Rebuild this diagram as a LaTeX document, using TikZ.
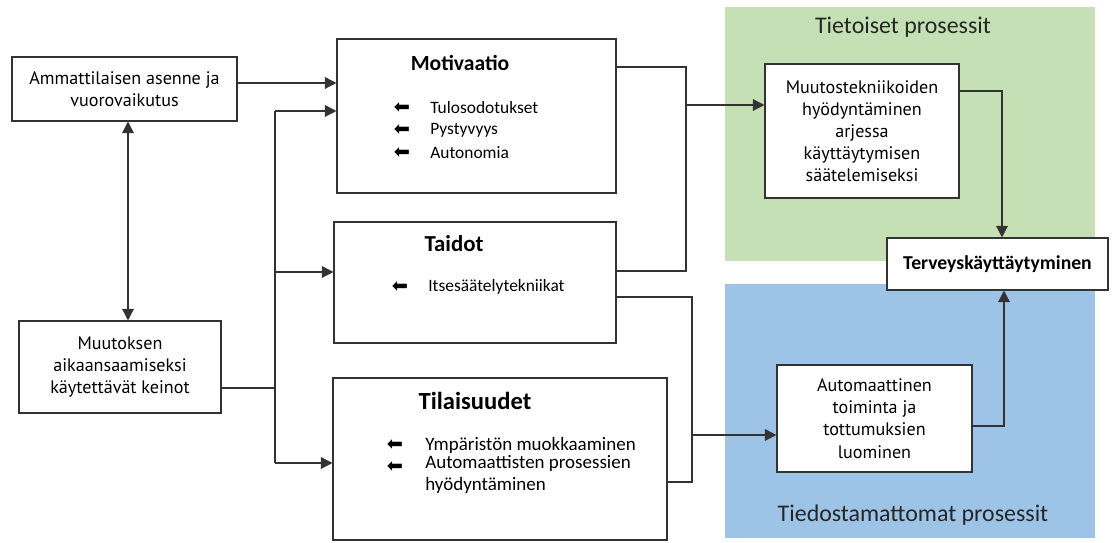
\documentclass[tikz,border=0pt]{standalone}
\usepackage{fontspec}
\setmainfont{Carlito}
\newfontfamily\boxfont{PT Sans}
\newfontfamily\symfont{DejaVu Sans}
\usetikzlibrary{arrows.meta}
\definecolor{tietoisetgreen}{HTML}{C5E0B4}
\definecolor{tiedostamatonblue}{HTML}{9DC3E6}
\tikzset{
    plainbox/.style={draw=black!80, line width=0.6pt, fill=white, align=center, inner sep=2pt},
    textbox/.style={plainbox, font=\boxfont\fontsize{10.3}{12.6}\selectfont},
    areatitle/.style={font=\fontsize{13.6}{15}\selectfont, text=black!85},
    boxtitle/.style={font=\bfseries\fontsize{12.3}{14}\selectfont},
    item/.style={anchor=west, inner sep=0pt, align=left},
    bullet/.style={font=\symfont\fontsize{11}{11}\selectfont, inner sep=0pt},
    line/.style={draw=black!80, line width=0.8pt},
    arr/.style={line, -{Triangle[length=2.3mm,width=2.3mm]}},
    dblarr/.style={line, {Triangle[length=2.3mm,width=2.3mm]}-{Triangle[length=2.3mm,width=2.3mm]}}
}
\begin{document}
\begin{tikzpicture}
        \useasboundingbox (0,0) rectangle (22.24,10.86);
        % taustat
        \fill [tietoisetgreen] (14.5,5.64) rectangle (21.9,10.72);
        \fill [tiedostamatonblue] (14.5,0.10) rectangle (21.9,5.18);
        \node [areatitle] (tietoiset) at (18.06,10.32) {Tietoiset prosessit};
        \node [areatitle] (tiedostamattomat) at (18.26,0.56) {Tiedostamattomat prosessit};
        % vasen puoli
        \node [textbox, minimum width=4.5cm, minimum height=1.28cm] (asenne) at (2.49,9.08) {Ammattilaisen asenne ja\\vuorovaikutus};
        \node [textbox, minimum width=4.04cm, minimum height=1.84cm] (keinot) at (2.40,3.52) {Muutoksen\\aikaansaamiseksi\\käytettävät keinot};
        % keskimmaiset laatikot
        \node [plainbox, minimum width=5.58cm, minimum height=3.08cm] (motivaatio) at (9.53,8.54) {};
        \node [plainbox, minimum width=5.64cm, minimum height=2.42cm] (taidot) at (9.50,5.21) {};
        \node [plainbox, minimum width=6.68cm, minimum height=3.24cm] (tilaisuudet) at (10.00,1.68) {};
        \begin{scope}[font=\fontsize{9.9}{11}\selectfont]
            \node [boxtitle] (motivaatiotitle) at (9.20,9.60) {Motivaatio};
            \node [bullet] (b1) at (8.04,8.70) {⬅};
            \node [item] (tulos) at (8.60,8.70) {Tulosodotukset};
            \node [bullet] (b2) at (8.04,8.26) {⬅};
            \node [item] (pysty) at (8.60,8.26) {Pystyvyys};
            \node [bullet] (b3) at (8.04,7.80) {⬅};
            \node [item] (auton) at (8.60,7.80) {Autonomia};
            \node [boxtitle, font=\bfseries\fontsize{13}{15}\selectfont] (taidottitle) at (9.08,5.98) {Taidot};
            \node [bullet] (b4) at (8.00,5.12) {⬅};
            \node [item] (itse) at (8.56,5.12) {Itsesäätelytekniikat};
        \end{scope}
        \begin{scope}[font=\fontsize{10.8}{12.5}\selectfont]
            \node [boxtitle, font=\bfseries\fontsize{14}{15}\selectfont] (tilaisuudettitle) at (9.50,2.84) {Tilaisuudet};
            \node [bullet] (b5) at (7.90,1.96) {⬅};
            \node [item] (ympa) at (8.50,1.96) {Ympäristön muokkaaminen};
            \node [bullet] (b6) at (7.90,1.52) {⬅};
            \node [item, anchor=north west] (autom) at (8.50,1.76) {Automaattisten prosessien\\hyödyntäminen};
        \end{scope}
        % oikea puoli
        \node [textbox, minimum width=3.88cm, minimum height=2.68cm] (muutos) at (17.24,8.24) {Muutostekniikoiden\\hyödyntäminen\\arjessa\\käyttäytymisen\\säätelemiseksi};
        \node [textbox, minimum width=3.9cm, minimum height=2.14cm] (automaattinen) at (17.49,2.49) {Automaattinen\\toiminta ja\\tottumuksien\\luominen};
        \node [plainbox, minimum width=4.42cm, minimum height=1.04cm, font=\bfseries\fontsize{11.2}{12}\selectfont] (terveys) at (19.95,5.58) {Terveyskäyttäytyminen};
        % yhteydet
        \coordinate (jtop) at (5.50,8.64);
        \coordinate (jmid) at (5.50,5.42);
        \coordinate (jbot) at (5.50,1.60);
        \coordinate (kt) at (13.72,9.52);
        \coordinate (kmid) at (13.72,8.76);
        \coordinate (kb) at (13.72,5.44);
        \coordinate (lt) at (13.84,4.92);
        \coordinate (lmid) at (13.84,2.16);
        \coordinate (lb) at (13.84,1.22);
        \draw [arr] ([yshift=1.2mm]asenne.east) -- ([yshift=1.2mm]asenne.east -| motivaatio.west);
        \draw [dblarr] ([xshift=0.7mm]asenne.south) -- ([xshift=0.7mm]asenne.south |- keinot.north);
        \draw [line] ([yshift=-4.2mm]keinot.east) -- ([yshift=-4.2mm]keinot.east -| jtop);
        \draw [line] (jtop) -- (jbot);
        \draw [arr] (jtop) -- (jtop -| motivaatio.west);
        \draw [arr] (jmid) -- (jmid -| taidot.west);
        \draw [arr] (jbot) -- (jbot -| tilaisuudet.west);
        \draw [line] (kt -| motivaatio.east) -- (kt) -- (kb) -- (kb -| taidot.east);
        \draw [arr] (kmid) -- (kmid -| muutos.west);
        \draw [line] (lt -| taidot.east) -- (lt) -- (lb) -- (lb -| tilaisuudet.east);
        \draw [arr] (lmid) -- (lmid -| automaattinen.west);
        \draw [arr] ([yshift=8mm]muutos.east) -| ([xshift=0.9mm]terveys.north);
        \draw [arr] ([yshift=-1.5mm]automaattinen.east) -| ([xshift=1.3mm]terveys.south);
    \end{tikzpicture}
\end{document}
